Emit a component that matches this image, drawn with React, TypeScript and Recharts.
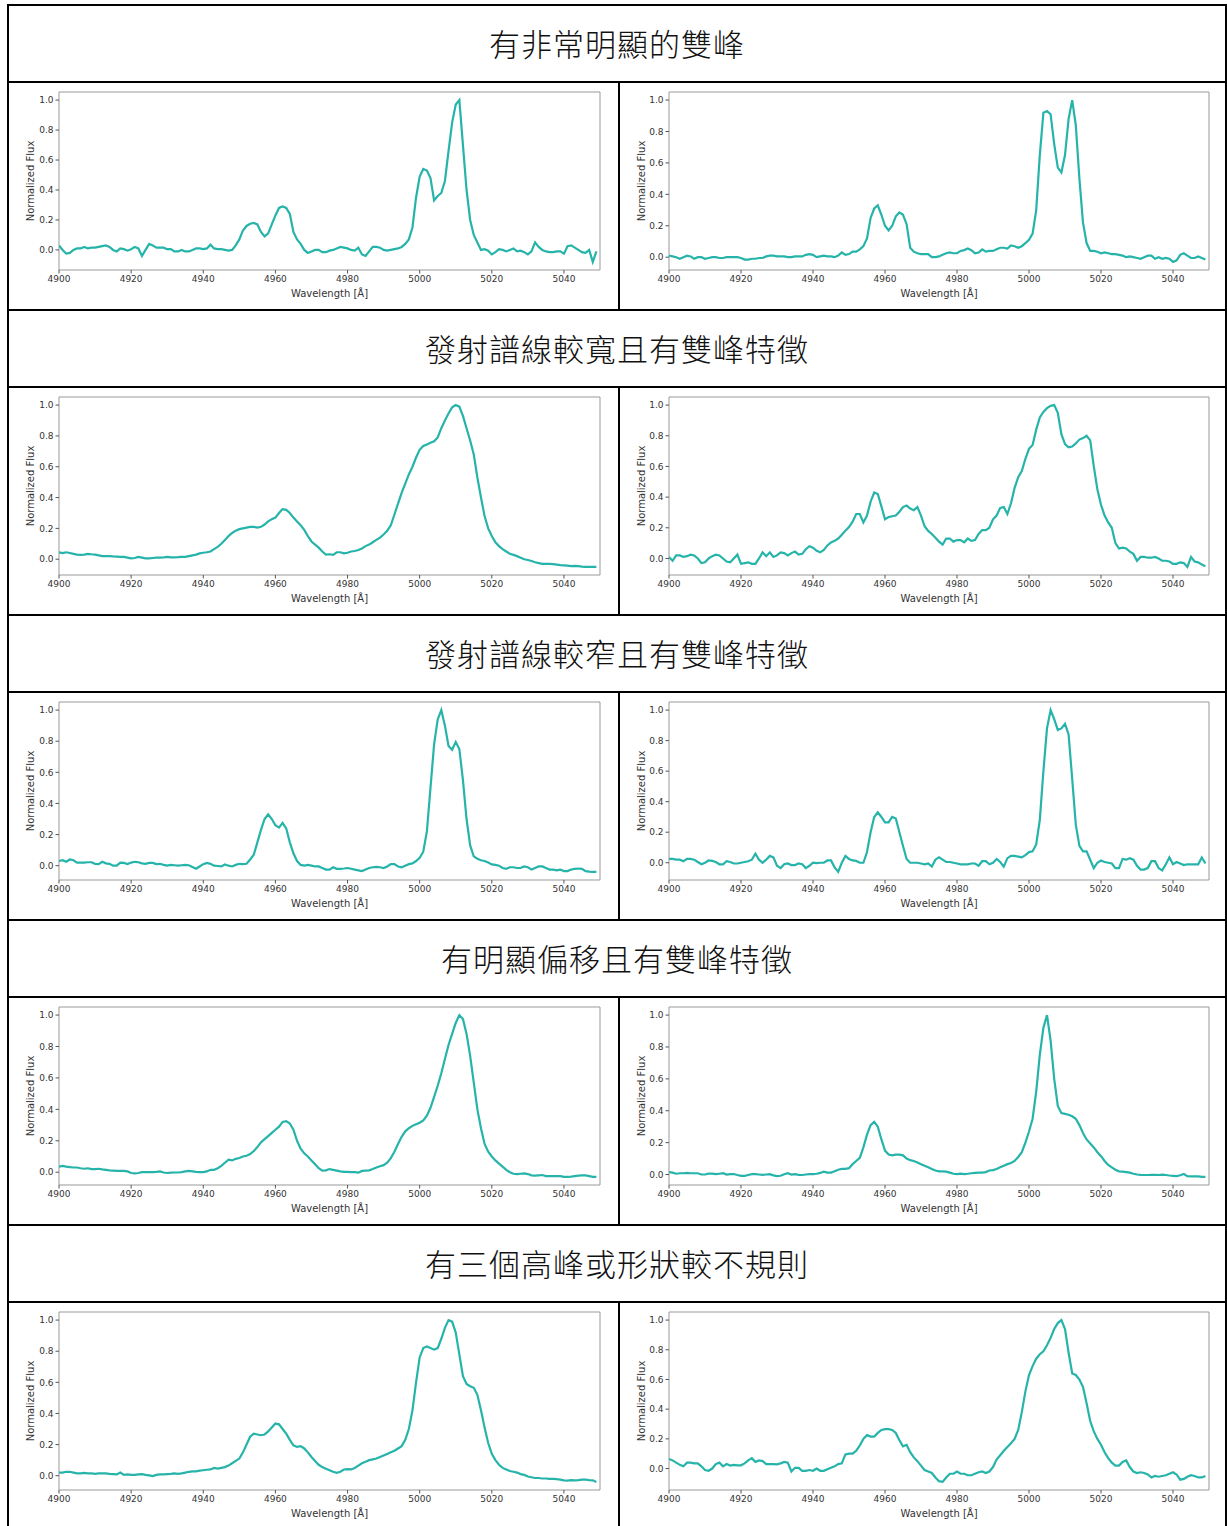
import React from "react";
import { LineChart, Line, XAxis, YAxis, ReferenceArea } from "recharts";

// wavelength grid shared by every spectrum (Å)
const wavelengths = [
  4900, 4901, 4902, 4903, 4904, 4905, 4906, 4907, 4908, 4909,
  4910, 4911, 4912, 4913, 4914, 4915, 4916, 4917, 4918, 4919,
  4920, 4921, 4922, 4923, 4924, 4925, 4926, 4927, 4928, 4929,
  4930, 4931, 4932, 4933, 4934, 4935, 4936, 4937, 4938, 4939,
  4940, 4941, 4942, 4943, 4944, 4945, 4946, 4947, 4948, 4949,
  4950, 4951, 4952, 4953, 4954, 4955, 4956, 4957, 4958, 4959,
  4960, 4961, 4962, 4963, 4964, 4965, 4966, 4967, 4968, 4969,
  4970, 4971, 4972, 4973, 4974, 4975, 4976, 4977, 4978, 4979,
  4980, 4981, 4982, 4983, 4984, 4985, 4986, 4987, 4988, 4989,
  4990, 4991, 4992, 4993, 4994, 4995, 4996, 4997, 4998, 4999,
  5000, 5001, 5002, 5003, 5004, 5005, 5006, 5007, 5008, 5009,
  5010, 5011, 5012, 5013, 5014, 5015, 5016, 5017, 5018, 5019,
  5020, 5021, 5022, 5023, 5024, 5025, 5026, 5027, 5028, 5029,
  5030, 5031, 5032, 5033, 5034, 5035, 5036, 5037, 5038, 5039,
  5040, 5041, 5042, 5043, 5044, 5045, 5046, 5047, 5048, 5049,
];

const rowTitles = [
  "有非常明顯的雙峰",
  "發射譜線較寬且有雙峰特徵",
  "發射譜線較窄且有雙峰特徵",
  "有明顯偏移且有雙峰特徵",
  "有三個高峰或形狀較不規則",
];

// row 1
const fluxA1 = [
  0.03, 0.0, -0.025, -0.02, 0.0, 0.01, 0.01, 0.02, 0.01, 0.015,
  0.015, 0.02, 0.025, 0.03, 0.02, 0.0, -0.01, 0.01, 0.005, -0.005,
  0.005, 0.02, 0.01, -0.04, 0.0, 0.04, 0.03, 0.015, 0.015, 0.015,
  0.005, 0.005, -0.01, -0.01, 0.0, -0.01, -0.01, 0.0, 0.01, 0.01,
  0.005, 0.01, 0.035, 0.01, 0.005, 0.005, 0.0, -0.005, 0.0, 0.03,
  0.07, 0.13, 0.16, 0.175, 0.18, 0.17, 0.12, 0.09, 0.11, 0.17,
  0.23, 0.28, 0.29, 0.28, 0.24, 0.12, 0.07, 0.04, 0.0, -0.02,
  -0.01, 0.0, 0.0, -0.015, -0.015, -0.005, 0.0, 0.01, 0.02, 0.015,
  0.01, 0.0, -0.005, 0.015, -0.03, -0.04, -0.01, 0.02, 0.02, 0.015,
  0.0, -0.005, 0.0, 0.005, 0.01, 0.02, 0.04, 0.07, 0.15, 0.35,
  0.49, 0.54, 0.53, 0.48, 0.33, 0.36, 0.38, 0.46, 0.66, 0.85,
  0.97, 1.0, 0.7, 0.4, 0.2, 0.1, 0.05, 0.0, 0.005, -0.005,
  -0.03, -0.015, 0.005, 0.0, -0.01, 0.0, 0.01, -0.01, -0.005, -0.015,
  -0.03, -0.01, 0.05, 0.02, 0.0, -0.01, -0.015, -0.015, -0.01, -0.01,
  -0.025, 0.025, 0.03, 0.015, 0.0, -0.015, -0.02, 0.0, -0.08, -0.01,
];
const fluxA2 = [
  0.01, 0.005, 0.0, -0.01, 0.0, 0.01, 0.005, -0.01, 0.0, 0.0,
  -0.01, -0.005, 0.0, 0.0, -0.005, -0.005, 0.0, 0.0, 0.0, 0.0,
  -0.005, -0.015, -0.015, -0.01, -0.01, -0.005, -0.005, 0.005, 0.01, 0.01,
  0.005, 0.005, 0.005, 0.0, 0.0, 0.005, 0.005, 0.005, 0.015, 0.02,
  0.015, 0.0, 0.005, 0.01, 0.005, 0.005, 0.0, 0.01, 0.03, 0.015,
  0.02, 0.035, 0.035, 0.05, 0.07, 0.12, 0.25, 0.31, 0.33, 0.27,
  0.2, 0.17, 0.2, 0.26, 0.285, 0.27, 0.21, 0.06, 0.035, 0.025,
  0.02, 0.02, 0.02, 0.0, 0.0, 0.005, 0.015, 0.025, 0.03, 0.025,
  0.025, 0.04, 0.045, 0.055, 0.045, 0.025, 0.03, 0.05, 0.035, 0.04,
  0.04, 0.05, 0.06, 0.06, 0.055, 0.075, 0.07, 0.06, 0.07, 0.09,
  0.11, 0.15, 0.3, 0.65, 0.92, 0.93, 0.91, 0.72, 0.57, 0.54,
  0.65, 0.88, 1.0, 0.84, 0.5, 0.22, 0.09, 0.04, 0.04, 0.035,
  0.025, 0.03, 0.025, 0.02, 0.02, 0.015, 0.01, 0.0, 0.005, 0.0,
  -0.005, -0.01, 0.0, 0.01, 0.01, -0.01, 0.0, -0.01, -0.005, -0.01,
  -0.03, -0.02, 0.015, 0.025, 0.01, -0.005, -0.005, 0.005, -0.005, -0.015,
];

// row 2
const fluxB1 = [
  0.045, 0.04, 0.045, 0.04, 0.035, 0.03, 0.028, 0.03, 0.035, 0.032,
  0.03, 0.025, 0.02, 0.02, 0.02, 0.018, 0.017, 0.015, 0.015, 0.01,
  0.005, 0.008, 0.015, 0.01, 0.005, 0.005, 0.008, 0.01, 0.01, 0.012,
  0.015, 0.012, 0.012, 0.013, 0.015, 0.015, 0.02, 0.025, 0.03, 0.038,
  0.042, 0.045, 0.05, 0.065, 0.08, 0.1, 0.125, 0.15, 0.17, 0.185,
  0.195, 0.2, 0.205, 0.21, 0.21, 0.205, 0.21, 0.225, 0.245, 0.26,
  0.27, 0.3, 0.325, 0.32, 0.3, 0.27, 0.245, 0.22, 0.19, 0.15,
  0.115, 0.095, 0.075, 0.05, 0.03, 0.032, 0.028, 0.045, 0.045, 0.038,
  0.042, 0.05, 0.053, 0.06, 0.07, 0.085, 0.095, 0.11, 0.125, 0.14,
  0.16, 0.185, 0.22, 0.29, 0.36, 0.43, 0.49, 0.55, 0.6, 0.66,
  0.71, 0.735, 0.745, 0.755, 0.765, 0.79, 0.85, 0.9, 0.945, 0.985,
  1.0, 0.99, 0.93, 0.85, 0.77, 0.68, 0.53, 0.4, 0.28, 0.2,
  0.15, 0.11, 0.085, 0.065, 0.05, 0.035, 0.028, 0.02, 0.01, 0.0,
  -0.005, -0.012, -0.02, -0.025, -0.03, -0.03, -0.03, -0.032, -0.035, -0.038,
  -0.04, -0.042, -0.045, -0.043, -0.045, -0.048, -0.05, -0.05, -0.05, -0.05,
];
const fluxB2 = [
  0.01, -0.015, 0.02, 0.02, 0.01, 0.015, 0.025, 0.02, 0.0, -0.03,
  -0.025, 0.0, 0.015, 0.025, 0.02, 0.0, -0.02, -0.025, 0.0, 0.025,
  -0.035, -0.03, -0.025, -0.035, -0.035, 0.0, 0.04, 0.015, 0.04, 0.01,
  0.02, 0.04, 0.035, 0.02, 0.035, 0.045, 0.025, 0.03, 0.06, 0.08,
  0.07, 0.05, 0.04, 0.055, 0.085, 0.105, 0.115, 0.13, 0.155, 0.18,
  0.205, 0.24, 0.29, 0.29, 0.235, 0.28, 0.37, 0.43, 0.42, 0.34,
  0.255, 0.27, 0.275, 0.28, 0.305, 0.335, 0.345, 0.325, 0.315, 0.335,
  0.28, 0.21, 0.18, 0.16, 0.135, 0.11, 0.09, 0.13, 0.13, 0.11,
  0.12, 0.12, 0.105, 0.13, 0.115, 0.12, 0.16, 0.185, 0.185, 0.2,
  0.255, 0.28, 0.33, 0.335, 0.29, 0.36, 0.46, 0.53, 0.57, 0.65,
  0.715, 0.74, 0.84, 0.92, 0.955, 0.98, 0.995, 1.0, 0.95, 0.81,
  0.745, 0.725, 0.73, 0.75, 0.775, 0.785, 0.8, 0.77, 0.6, 0.45,
  0.35, 0.28, 0.235, 0.2, 0.1, 0.065, 0.07, 0.065, 0.045, 0.03,
  -0.015, 0.01, 0.01, 0.005, 0.005, 0.01, 0.0, -0.015, -0.015, -0.02,
  -0.035, -0.035, -0.025, -0.03, -0.055, 0.01, -0.02, -0.025, -0.04, -0.05,
];

// row 3
const fluxC1 = [
  0.03, 0.035, 0.025, 0.04, 0.035, 0.02, 0.02, 0.02, 0.022, 0.022,
  0.012, 0.01, 0.025, 0.015, 0.012, 0.0, 0.0, 0.02, 0.018, 0.01,
  0.02, 0.025, 0.022, 0.015, 0.012, 0.018, 0.018, 0.01, 0.012, 0.005,
  0.0, 0.005, 0.003, 0.0, 0.003, 0.005, 0.003, -0.008, -0.02, -0.005,
  0.01, 0.018, 0.012, 0.0, -0.002, -0.005, 0.008, 0.0, -0.005, 0.005,
  0.012, 0.01, 0.012, 0.04, 0.07, 0.15, 0.23, 0.3, 0.33, 0.3,
  0.26, 0.245, 0.275, 0.24, 0.15, 0.08, 0.03, 0.005, 0.0, 0.005,
  0.0, -0.005, -0.005, -0.015, -0.025, -0.025, -0.01, -0.02, -0.02, -0.018,
  -0.015, -0.02, -0.025, -0.03, -0.035, -0.025, -0.015, -0.01, -0.008, -0.01,
  -0.015, -0.005, 0.01, 0.01, -0.005, -0.01, 0.0, 0.01, 0.015, 0.03,
  0.05, 0.09, 0.22, 0.5, 0.78, 0.94, 1.0, 0.9, 0.77, 0.745,
  0.795, 0.75, 0.55, 0.3, 0.13, 0.06, 0.045, 0.035, 0.03, 0.02,
  0.008, 0.005, 0.0, -0.015, -0.02, -0.01, -0.01, -0.015, -0.015, -0.005,
  -0.01, -0.025, -0.015, -0.005, -0.005, -0.015, -0.025, -0.025, -0.03, -0.025,
  -0.035, -0.035, -0.025, -0.02, -0.018, -0.02, -0.035, -0.038, -0.04, -0.04,
];
const fluxC2 = [
  0.025, 0.025, 0.02, 0.02, 0.01, 0.025, 0.025, 0.02, 0.005, -0.01,
  0.0, 0.015, 0.012, 0.005, -0.01, -0.01, 0.01, 0.005, -0.005, -0.005,
  0.0, 0.005, 0.01, 0.02, 0.06, 0.02, 0.0, 0.02, 0.045, 0.035,
  -0.02, -0.035, -0.01, -0.005, -0.015, -0.015, -0.005, -0.01, -0.035, -0.02,
  0.0, -0.002, 0.0, 0.0, 0.015, 0.015, -0.03, -0.06, 0.0, 0.045,
  0.025, 0.015, 0.012, 0.0, 0.0, 0.07, 0.2, 0.3, 0.33, 0.3,
  0.265, 0.265, 0.3, 0.29, 0.2, 0.11, 0.025, 0.0, 0.0, 0.0,
  -0.005, -0.01, -0.005, -0.025, 0.02, 0.035, 0.02, 0.005, 0.005, 0.0,
  -0.005, -0.01, -0.01, -0.01, -0.005, -0.005, -0.02, 0.01, 0.01, -0.01,
  0.0, 0.025, 0.005, -0.025, 0.03, 0.045, 0.045, 0.04, 0.035, 0.05,
  0.07, 0.075, 0.12, 0.28, 0.6, 0.88, 1.0, 0.94, 0.87, 0.88,
  0.91, 0.84, 0.55, 0.25, 0.11, 0.075, 0.075, 0.02, -0.035, 0.0,
  0.015, 0.005, 0.0, -0.005, -0.035, -0.035, 0.025, 0.02, 0.03, 0.02,
  -0.02, -0.045, -0.045, -0.035, 0.01, 0.01, -0.035, -0.05, -0.01, 0.035,
  -0.01, 0.005, -0.005, -0.015, -0.01, -0.01, -0.01, -0.01, 0.035, -0.005,
];

// row 4
const fluxD1 = [
  0.035, 0.04, 0.035, 0.032, 0.03, 0.03, 0.025, 0.022, 0.025, 0.02,
  0.02, 0.022, 0.018, 0.015, 0.012, 0.01, 0.008, 0.008, 0.008, 0.005,
  -0.005, -0.008, -0.005, 0.0, 0.0, 0.0, 0.0, 0.002, 0.005, -0.002,
  -0.005, -0.003, -0.002, -0.002, 0.0, 0.005, 0.008, 0.005, 0.002, 0.0,
  0.0, 0.005, 0.015, 0.015, 0.025, 0.04, 0.06, 0.08, 0.075, 0.085,
  0.09, 0.1, 0.105, 0.115, 0.135, 0.16, 0.19, 0.21, 0.23, 0.25,
  0.27, 0.29, 0.32, 0.325, 0.31, 0.27, 0.2, 0.15, 0.12, 0.1,
  0.075, 0.05, 0.025, 0.01, 0.012, 0.02, 0.015, 0.01, 0.005, 0.002,
  0.002, 0.0, 0.0, -0.003, 0.008, 0.01, 0.012, 0.02, 0.03, 0.038,
  0.045, 0.06, 0.09, 0.13, 0.18, 0.225, 0.26, 0.28, 0.295, 0.305,
  0.315, 0.33, 0.36, 0.41, 0.48, 0.55, 0.63, 0.72, 0.81, 0.88,
  0.95, 1.0, 0.975, 0.88, 0.74, 0.57, 0.4, 0.28, 0.18, 0.13,
  0.1, 0.075, 0.055, 0.035, 0.015, 0.0, -0.01, -0.012, -0.01, -0.008,
  -0.012, -0.02, -0.022, -0.02, -0.018, -0.025, -0.025, -0.025, -0.025, -0.025,
  -0.03, -0.03, -0.028, -0.025, -0.022, -0.02, -0.02, -0.025, -0.03, -0.03,
];
const fluxD2 = [
  0.015, 0.012, 0.005, 0.008, 0.008, 0.01, 0.008, 0.008, 0.008, 0.0,
  0.0, 0.005, 0.005, 0.002, 0.005, 0.008, 0.0, 0.002, 0.003, -0.003,
  -0.008, -0.008, -0.003, 0.002, 0.002, 0.0, -0.002, 0.0, 0.002, -0.005,
  -0.01, -0.008, 0.002, 0.008, 0.0, 0.002, -0.002, -0.003, 0.0, 0.002,
  0.003, 0.005, 0.01, 0.018, 0.012, 0.012, 0.02, 0.03, 0.035, 0.035,
  0.04, 0.065, 0.085, 0.105, 0.17, 0.25, 0.31, 0.33, 0.3, 0.22,
  0.15, 0.125, 0.12, 0.125, 0.125, 0.12, 0.1, 0.09, 0.085, 0.075,
  0.065, 0.055, 0.045, 0.035, 0.025, 0.02, 0.02, 0.018, 0.012, 0.005,
  0.003, 0.005, 0.003, 0.005, 0.008, 0.01, 0.012, 0.012, 0.015, 0.025,
  0.028, 0.035, 0.045, 0.055, 0.065, 0.072, 0.085, 0.11, 0.14, 0.2,
  0.27, 0.35, 0.52, 0.75, 0.92, 1.0, 0.84, 0.6, 0.43, 0.385,
  0.38, 0.375, 0.365, 0.35, 0.31, 0.26, 0.22, 0.195, 0.17, 0.14,
  0.115, 0.085, 0.06, 0.045, 0.03, 0.02, 0.018, 0.015, 0.012, 0.005,
  0.0, -0.002, -0.003, -0.003, -0.002, -0.002, -0.003, -0.001, -0.003, -0.006,
  -0.008, -0.01, -0.005, 0.003, -0.01, -0.012, -0.012, -0.012, -0.015, -0.015,
];

// row 5
const fluxE1 = [
  0.02, 0.02, 0.025, 0.025, 0.02, 0.015, 0.015, 0.018, 0.015, 0.015,
  0.012, 0.015, 0.015, 0.015, 0.012, 0.01, 0.008, 0.02, 0.005, 0.008,
  0.005, 0.005, 0.008, 0.01, 0.005, 0.002, -0.002, 0.005, 0.008, 0.008,
  0.01, 0.012, 0.015, 0.012, 0.015, 0.02, 0.025, 0.028, 0.028, 0.032,
  0.035, 0.038, 0.04, 0.05, 0.045, 0.05, 0.055, 0.065, 0.08, 0.095,
  0.11, 0.15, 0.2, 0.25, 0.27, 0.265, 0.26, 0.265, 0.285, 0.31,
  0.335, 0.33, 0.3, 0.27, 0.23, 0.195, 0.185, 0.19, 0.175, 0.15,
  0.12, 0.095, 0.07, 0.055, 0.045, 0.035, 0.025, 0.018, 0.025, 0.04,
  0.042, 0.04, 0.05, 0.065, 0.08, 0.09, 0.1, 0.105, 0.11, 0.12,
  0.13, 0.14, 0.15, 0.16, 0.175, 0.19, 0.23, 0.3, 0.42, 0.6,
  0.76, 0.82, 0.83, 0.82, 0.81, 0.82, 0.88, 0.95, 1.0, 0.99,
  0.92, 0.78, 0.64, 0.59, 0.575, 0.565, 0.52, 0.42, 0.31, 0.21,
  0.14, 0.1, 0.07, 0.05, 0.04, 0.03, 0.025, 0.02, 0.01, 0.005,
  -0.005, -0.01, -0.015, -0.015, -0.018, -0.018, -0.02, -0.02, -0.022, -0.025,
  -0.03, -0.032, -0.028, -0.03, -0.028, -0.025, -0.025, -0.028, -0.03, -0.04,
];
const fluxE2 = [
  0.065, 0.055, 0.04, 0.025, 0.015, 0.04, 0.04, 0.035, 0.035, 0.015,
  -0.01, -0.015, 0.0, 0.03, 0.04, 0.015, 0.03, 0.02, 0.025, 0.022,
  0.022, 0.035, 0.055, 0.07, 0.045, 0.055, 0.05, 0.03, 0.03, 0.03,
  0.028, 0.035, 0.045, 0.04, -0.02, 0.005, 0.005, -0.015, -0.015, -0.01,
  -0.015, 0.0, -0.015, -0.015, -0.005, 0.005, 0.015, 0.03, 0.035, 0.095,
  0.1, 0.1, 0.12, 0.155, 0.2, 0.225, 0.215, 0.215, 0.24, 0.26,
  0.265, 0.265, 0.26, 0.24, 0.19, 0.15, 0.16, 0.11, 0.075, 0.05,
  0.02, -0.01, -0.02, -0.03, -0.06, -0.085, -0.09, -0.06, -0.035, -0.035,
  -0.02, -0.035, -0.035, -0.045, -0.045, -0.035, -0.025, -0.02, -0.03, -0.02,
  0.01, 0.06, 0.09, 0.12, 0.145, 0.17, 0.2, 0.26, 0.38, 0.52,
  0.63, 0.69, 0.74, 0.77, 0.79, 0.83, 0.88, 0.94, 0.98, 1.0,
  0.94, 0.78, 0.64, 0.63, 0.6, 0.55, 0.44, 0.32, 0.25, 0.2,
  0.16, 0.11, 0.07, 0.04, 0.02, 0.02, 0.045, 0.055, 0.01, -0.02,
  -0.03, -0.025, -0.03, -0.04, -0.06, -0.05, -0.055, -0.05, -0.045, -0.035,
  -0.025, -0.04, -0.075, -0.07, -0.055, -0.045, -0.05, -0.06, -0.06, -0.05,
];

const rowSpectra = [
  [fluxA1, fluxA2],
  [fluxB1, fluxB2],
  [fluxC1, fluxC2],
  [fluxD1, fluxD2],
  [fluxE1, fluxE2],
];

const xTicks = [4900, 4920, 4940, 4960, 4980, 5000, 5020, 5040];
const yTicks = [0, 0.2, 0.4, 0.6, 0.8, 1.0];

const LINE_COLOR = "#26b4aa";
const TICK_STYLE = { fontSize: 9, fill: "#333", fontFamily: "DejaVu Sans" };
const LABEL_STYLE = { fontSize: 10, fill: "#333", fontFamily: "DejaVu Sans" };

function SpectrumPanel({
  flux,
  width,
  yAxisWidth,
  plotRight,
}: {
  flux: number[];
  width: number;
  yAxisWidth: number;
  plotRight: number;
}) {
  const data = wavelengths.map((w, i) => ({ w, f: flux[i] }));

  // matplotlib-style auto limits: 5% padding around the data
  const lo = Math.min(...flux);
  const hi = Math.max(...flux);
  const pad = (hi - lo) * 0.05;
  const yDomain: [number, number] = [lo - pad, hi + pad];

  return (
    <LineChart
      width={width}
      height={226}
      data={data}
      margin={{ top: 9, right: width - plotRight, bottom: 0, left: 0 }}
    >
      <ReferenceArea
        x1={4900}
        x2={5050}
        y1={yDomain[0]}
        y2={yDomain[1]}
        fill="none"
        stroke="#999"
        strokeWidth={1}
        ifOverflow="visible"
      />
      <XAxis
        type="number"
        dataKey="w"
        domain={[4900, 5050]}
        allowDataOverflow
        ticks={xTicks}
        height={39}
        axisLine={false}
        tickLine={{ stroke: "#555" }}
        tickSize={3.5}
        tickMargin={2}
        tick={TICK_STYLE}
        label={{
          value: "Wavelength [Å]",
          position: "insideBottom",
          offset: 12,
          style: LABEL_STYLE,
        }}
      />
      <YAxis
        type="number"
        domain={yDomain}
        allowDataOverflow
        ticks={yTicks}
        width={yAxisWidth}
        axisLine={false}
        tickLine={{ stroke: "#555" }}
        tickSize={3.5}
        tickMargin={2}
        tick={TICK_STYLE}
        tickFormatter={(v: number) => v.toFixed(1)}
        label={{
          value: "Normalized Flux",
          angle: -90,
          position: "insideLeft",
          offset: 21,
          style: { ...LABEL_STYLE, textAnchor: "middle" },
        }}
      />
      <Line
        type="linear"
        dataKey="f"
        stroke={LINE_COLOR}
        strokeWidth={2.2}
        dot={false}
        isAnimationActive={false}
      />
    </LineChart>
  );
}

export default function App() {
  const border = "2px solid #000";
  return (
    <div
      style={{
        position: "absolute",
        left: 0,
        top: 0,
        width: 1227,
        height: 1526,
        overflow: "hidden",
        background: "#fff",
      }}
    >
      <div
        style={{
          position: "absolute",
          left: 7,
          top: 4,
          width: 1220,
          boxSizing: "border-box",
          borderTop: border,
          borderLeft: border,
          borderRight: border,
        }}
      >
        {rowTitles.map((title, r) => (
          <React.Fragment key={title}>
            <div
              style={{
                height: 77,
                boxSizing: "border-box",
                paddingBottom: 3,
                borderBottom: border,
                display: "flex",
                alignItems: "center",
                justifyContent: "center",
                fontFamily: "'Noto Sans CJK TC', 'Noto Sans CJK SC', sans-serif",
                fontWeight: 300,
                fontSize: 31,
                letterSpacing: 1,
                color: "#111",
              }}
            >
              {title}
            </div>
            <div style={{ height: 226, borderBottom: border, display: "flex" }}>
              <div style={{ width: 609, borderRight: border }}>
                <SpectrumPanel
                  flux={rowSpectra[r][0]}
                  width={609}
                  yAxisWidth={50}
                  plotRight={591}
                />
              </div>
              <div style={{ width: 605 }}>
                <SpectrumPanel
                  flux={rowSpectra[r][1]}
                  width={605}
                  yAxisWidth={49}
                  plotRight={589}
                />
              </div>
            </div>
          </React.Fragment>
        ))}
      </div>
    </div>
  );
}
